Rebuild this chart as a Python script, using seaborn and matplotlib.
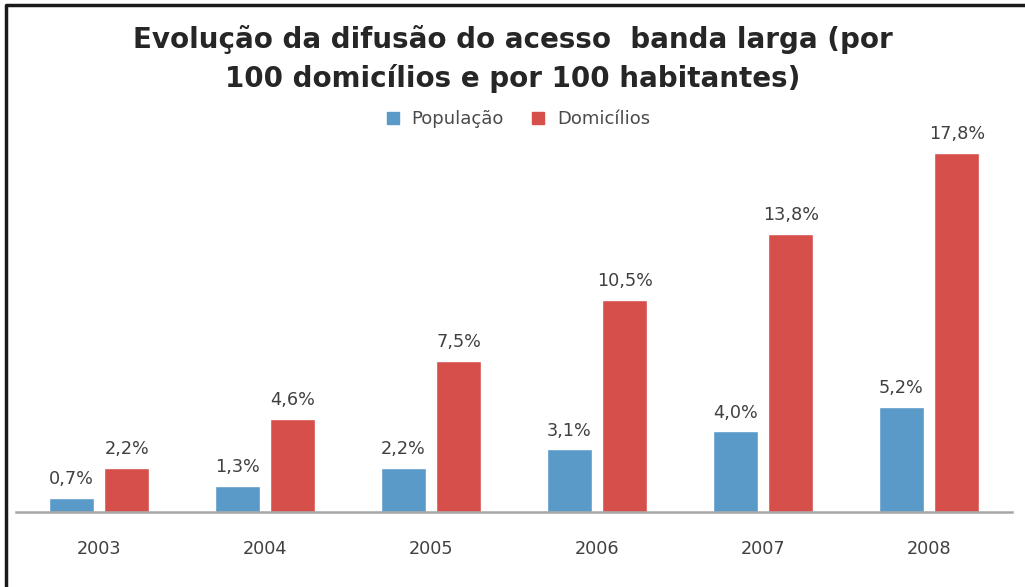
import matplotlib
matplotlib.use("Agg")
import matplotlib.pyplot as plt
import pandas as pd
import seaborn as sns
from matplotlib.lines import Line2D

# Data
anos = ["2003", "2004", "2005", "2006", "2007", "2008"]
populacao = [0.7, 1.3, 2.2, 3.1, 4.0, 5.2]
domicilios = [2.2, 4.6, 7.5, 10.5, 13.8, 17.8]
series = ["População", "Domicílios"]
cores = ["#5A9AC9", "#D74F4B"]

df = pd.DataFrame({
    "Ano": anos * 2,
    "Valor": populacao + domicilios,
    "Serie": [series[0]] * len(anos) + [series[1]] * len(anos),
})

sns.set_theme(style="white")
plt.rcParams["font.family"] = ["DejaVu Sans"]

fig = plt.figure(figsize=(10.25, 5.87), dpi=100)
ax = fig.add_axes([16 / 1025, 1 - 512 / 587, 996 / 1025, 372 / 587])

sns.barplot(data=df, x="Ano", y="Valor", hue="Serie", order=anos, hue_order=series,
            palette=cores, width=0.669, gap=0.19, saturation=1, ax=ax, legend=False)

ax.set_xlim(-0.5, 5.5)
ax.set_ylim(0, 372 / 20.17)
ax.set_xlabel("")
ax.set_ylabel("")
ax.set_yticks([])
for side in ["top", "right", "left"]:
    ax.spines[side].set_visible(False)
ax.spines["bottom"].set_color("#A6A6A6")
ax.spines["bottom"].set_linewidth(1.8)
ax.tick_params(axis="x", length=0, pad=20, labelsize=12.7, labelcolor="#404040")

# data labels
for cont in ax.containers:
    for barra in cont:
        h = barra.get_height()
        ax.annotate(("%.1f%%" % h).replace(".", ","),
                    (barra.get_x() + barra.get_width() / 2, h),
                    xytext=(0, 7), textcoords="offset points",
                    ha="center", va="bottom", fontsize=12.7, color="#404040",
                    clip_on=False)

# title
fig.text(0.5, 1 - 59 / 587, "Evolução da difusão do acesso  banda larga (por\n100 domicílios e por 100 habitantes)",
         ha="center", va="center", fontsize=20, fontweight="bold", color="#262626",
         linespacing=1.42)

# legend
handles = [Line2D([], [], marker="s", linestyle="", markersize=8, color=c) for c in cores]
fig.legend(handles, series, loc="center", bbox_to_anchor=(0.5, 1 - 119 / 587), ncol=2,
           frameon=False, fontsize=13, handletextpad=0.05, columnspacing=0.9,
           labelcolor="#4A4A4A")

# outer frame (top and left edges visible)
fig.add_artist(Line2D([6 / 1025, 6 / 1025, 1.0], [0.0, 1 - 5 / 587, 1 - 5 / 587],
                      transform=fig.transFigure, color="#1A1A1A", linewidth=2.5))

fig.savefig("out.png", dpi=100, facecolor="white")
